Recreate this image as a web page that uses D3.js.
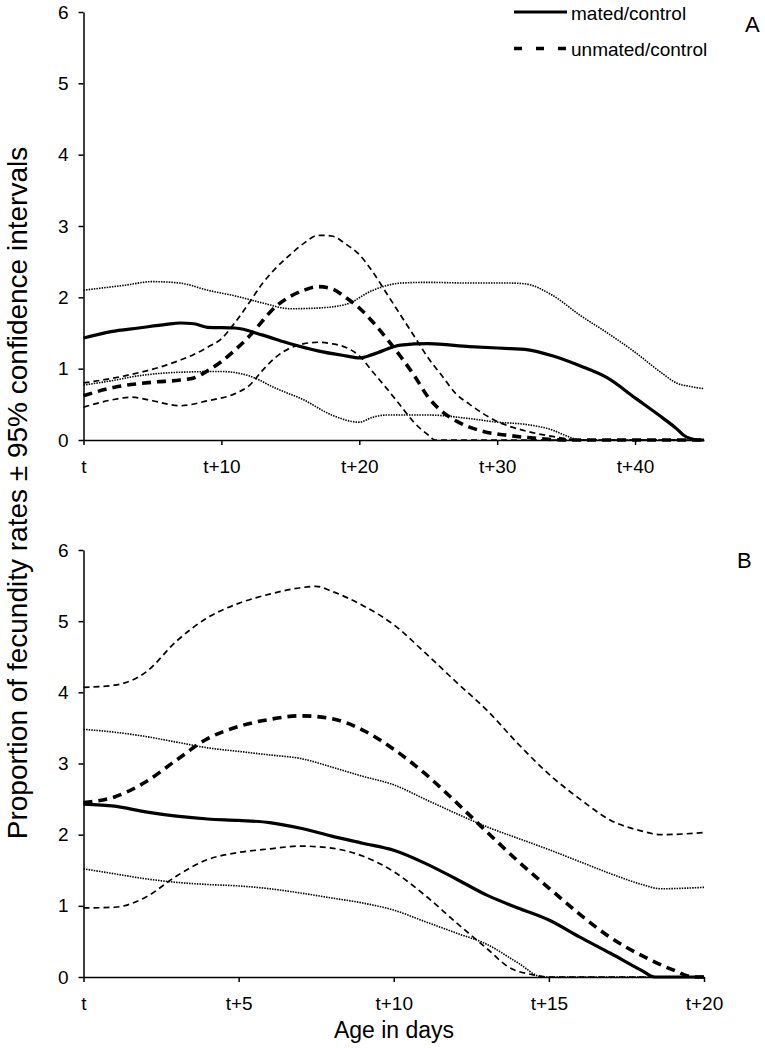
<!DOCTYPE html>
<html>
<head>
<meta charset="utf-8">
<script src="https://cdn.jsdelivr.net/npm/d3@7"></script>
<style>
  html, body { margin: 0; padding: 0; background: #fff; }
  svg { display: block; font-family: "Liberation Sans", Arial, sans-serif; }
</style>
</head>
<body>
<svg id="chart" width="765" height="1048"></svg>
<script>
// ---------- Data ----------
// Panel A  (x = days after t)
const matedA_days   = [0,2,4,6,7,8,9,11,13,15,17,19,20,21,23,25,28,31,32,34,36,38,40,42,43,43.5,44,44.6,45];
const matedA_vals   = [1.43,1.52,1.57,1.62,1.64,1.63,1.58,1.57,1.47,1.35,1.25,1.18,1.15,1.2,1.33,1.35,1.31,1.28,1.27,1.18,1.04,0.87,0.59,0.31,0.16,0.07,0.02,0,0];
const matedA_up_days = [0,3,5,7,9,11,13,15,17,19,21,23,25,28,31,32,34,36,38,40,42,43,44,45];
const matedA_up_vals = [2.1,2.17,2.22,2.2,2.1,2.02,1.92,1.84,1.85,1.9,2.1,2.2,2.21,2.2,2.2,2.19,2.03,1.75,1.5,1.23,0.93,0.8,0.75,0.72];
const matedA_lo_days = [0,2,4,7,10,12,14,16,18,20,21,22,25,28,30,32,34,35,36,45];
const matedA_lo_vals = [0.77,0.83,0.9,0.95,0.96,0.9,0.72,0.56,0.35,0.25,0.32,0.35,0.35,0.3,0.25,0.22,0.14,0.06,0,0];

const unmatedA_days  = [0,2,5,7,8,9,10,12,14,16,17,18,19,20,21,22,23,24,25,26,27,28,29,31,33,35,45];
const unmatedA_vals  = [0.62,0.73,0.81,0.84,0.87,0.97,1.1,1.45,1.88,2.1,2.15,2.12,2.0,1.85,1.65,1.42,1.17,0.9,0.6,0.4,0.27,0.18,0.12,0.06,0.02,0,0];
const unmatedA_up_days = [0,3,6,8,9,10,11,12,13,14,15,16,17,18,19,20,21,22,23,24,25,26,27,28,30,32,34,36,45];
const unmatedA_up_vals = [0.8,0.9,1.05,1.2,1.3,1.42,1.65,1.92,2.2,2.42,2.6,2.76,2.87,2.86,2.75,2.6,2.35,2.05,1.75,1.45,1.15,0.9,0.65,0.5,0.26,0.13,0.05,0,0];
const unmatedA_lo_days = [0,2,3.5,5,7,9,11,12,13,14,15,16,17,18,19,20,21,22,23,24,25,25.5,45];
const unmatedA_lo_vals = [0.46,0.56,0.6,0.55,0.48,0.55,0.65,0.76,0.98,1.17,1.29,1.35,1.37,1.35,1.3,1.18,0.95,0.72,0.48,0.24,0.07,0,0];

// Panel B
const matedB_days  = [0,1,2,3,4,5,6,7,8,9,10,11,12,13,14,15,16,17,18,18.4,20];
const matedB_vals  = [2.43,2.4,2.32,2.26,2.22,2.2,2.17,2.09,1.98,1.88,1.78,1.6,1.38,1.15,0.97,0.8,0.56,0.33,0.09,0,0];
const matedB_up_days = [0,1,2,3,4,5,6,7,8,9,10,11,12,13,14,15,16,17,18,18.6,20];
const matedB_up_vals = [3.48,3.44,3.38,3.3,3.22,3.17,3.12,3.07,2.95,2.82,2.7,2.5,2.3,2.11,1.95,1.79,1.62,1.45,1.3,1.24,1.26];
const matedB_lo_days = [0,1,2,3,4,5,6,7,8,9,10,11,12,13,14,14.8,20];
const matedB_lo_vals = [1.52,1.45,1.38,1.33,1.3,1.28,1.24,1.18,1.11,1.04,0.94,0.78,0.62,0.46,0.2,0,0];

const unmatedB_days  = [0,1,2,3,4,5,6,7,8,9,10,11,12,13,14,15,16,17,18,19,19.7,20];
const unmatedB_vals  = [2.45,2.53,2.74,3.05,3.35,3.52,3.62,3.67,3.63,3.47,3.2,2.86,2.46,2.04,1.63,1.25,0.88,0.55,0.3,0.1,0,0];
const unmatedB_up_days = [0,1,2,3,4,5,6,7,7.5,8,9,10,11,12,13,14,15,16,17,18,18.6,20];
const unmatedB_up_vals = [4.07,4.1,4.28,4.72,5.05,5.25,5.38,5.47,5.49,5.42,5.22,4.95,4.56,4.15,3.75,3.28,2.85,2.5,2.2,2.05,2.0,2.03];
const unmatedB_lo_days = [0,1,2,3,4,5,6,7,8,9,10,11,12,13,13.7,14.5,15,20];
const unmatedB_lo_vals = [0.97,0.98,1.12,1.42,1.65,1.75,1.8,1.84,1.81,1.7,1.48,1.15,0.77,0.4,0.14,0.03,0,0];

const yTicks  = [0,1,2,3,4,5,6];
const xTicksA = [0,10,20,30,40];
const xTicksB = [0,5,10,15,20];
const legendLabels = ["mated/control","unmated/control"];

// ---------- Drawing ----------
const svg = d3.select("#chart");
const FONT = "'Liberation Sans', Arial, sans-serif";

const styles = {
  mean_mated:   {w:3.2, dash:null},
  mean_unmated: {w:3.6, dash:"9,6"},
  ci_mated:     {w:1.6, dash:"1.5,1.1"},
  ci_unmated:   {w:1.7, dash:"6,4"}
};

function zip(ds, vs){ return ds.map((d,i)=>[d, vs[i]]); }

function panel(cfg){
  const x = d3.scaleLinear().domain(cfg.xDomain).range([83.5, 704]);
  const y = d3.scaleLinear().domain([0,6]).range(cfg.yRange);
  const g = svg.append("g");

  const line = d3.line().x(d=>x(d[0])).y(d=>y(d[1])).curve(d3.curveMonotoneX);
  cfg.series.forEach(s=>{
    const st = styles[s.style];
    g.append("path")
      .attr("d", line(zip(s.days, s.vals)))
      .attr("fill","none")
      .attr("stroke","#000")
      .attr("stroke-width", st.w)
      .attr("stroke-dasharray", st.dash)
      .attr("stroke-linejoin","round");
  });

  const ya = g.append("g").attr("transform","translate(83.5,0)")
    .call(d3.axisLeft(y).tickValues(yTicks).tickFormat(d3.format("d")).tickSize(5).tickSizeOuter(0).tickPadding(10));
  const xa = g.append("g").attr("transform",`translate(0,${cfg.yRange[0]})`)
    .call(d3.axisBottom(x).tickValues(cfg.xTicks).tickFormat(d=> d===0 ? "t" : "t+"+d).tickSize(5).tickSizeOuter(0).tickPadding(14.5));
  [ya, xa].forEach(a=>{
    a.selectAll("path, line").attr("stroke","#000").attr("stroke-width",1.5);
    a.selectAll("text").attr("font-family",FONT).attr("font-size",19).attr("fill","#000");
  });

  g.append("text").attr("x", cfg.letterX).attr("y", cfg.letterY)
    .attr("font-family",FONT).attr("font-size",22).text(cfg.letter);
  return {x,y,g};
}

panel({
  xDomain:[0,45], yRange:[440,12], xTicks:xTicksA, letter:"A", letterX:745, letterY:32,
  series:[
    {days:matedA_up_days, vals:matedA_up_vals, style:"ci_mated"},
    {days:matedA_lo_days, vals:matedA_lo_vals, style:"ci_mated"},
    {days:unmatedA_up_days, vals:unmatedA_up_vals, style:"ci_unmated"},
    {days:unmatedA_lo_days, vals:unmatedA_lo_vals, style:"ci_unmated"},
    {days:unmatedA_days, vals:unmatedA_vals, style:"mean_unmated"},
    {days:matedA_days, vals:matedA_vals, style:"mean_mated"}
  ]
});

panel({
  xDomain:[0,20], yRange:[977,550], xTicks:xTicksB, letter:"B", letterX:737, letterY:568,
  series:[
    {days:matedB_up_days, vals:matedB_up_vals, style:"ci_mated"},
    {days:matedB_lo_days, vals:matedB_lo_vals, style:"ci_mated"},
    {days:unmatedB_up_days, vals:unmatedB_up_vals, style:"ci_unmated"},
    {days:unmatedB_lo_days, vals:unmatedB_lo_vals, style:"ci_unmated"},
    {days:unmatedB_days, vals:unmatedB_vals, style:"mean_unmated"},
    {days:matedB_days, vals:matedB_vals, style:"mean_mated"}
  ]
});

// Legend
const leg = svg.append("g");
const legStyles = [{w:3.2, dash:null, y:12}, {w:3.6, dash:"8,14", y:48.5}];
legendLabels.forEach((lab,i)=>{
  const s = legStyles[i];
  leg.append("line").attr("x1",514).attr("x2",567).attr("y1",s.y).attr("y2",s.y)
    .attr("stroke","#000").attr("stroke-width",s.w).attr("stroke-dasharray",s.dash);
  leg.append("text").attr("x",571).attr("y",s.y+7.5)
    .attr("font-family",FONT).attr("font-size",19).text(lab);
});

// Axis titles
svg.append("text").attr("x",394).attr("y",1038).attr("text-anchor","middle")
  .attr("font-family",FONT).attr("font-size",23).text("Age in days");
svg.append("text").attr("transform","translate(27,493) rotate(-90)").attr("text-anchor","middle")
  .attr("font-family",FONT).attr("font-size",28)
  .text("Proportion of fecundity rates ± 95% confidence intervals");
</script>
</body>
</html>
